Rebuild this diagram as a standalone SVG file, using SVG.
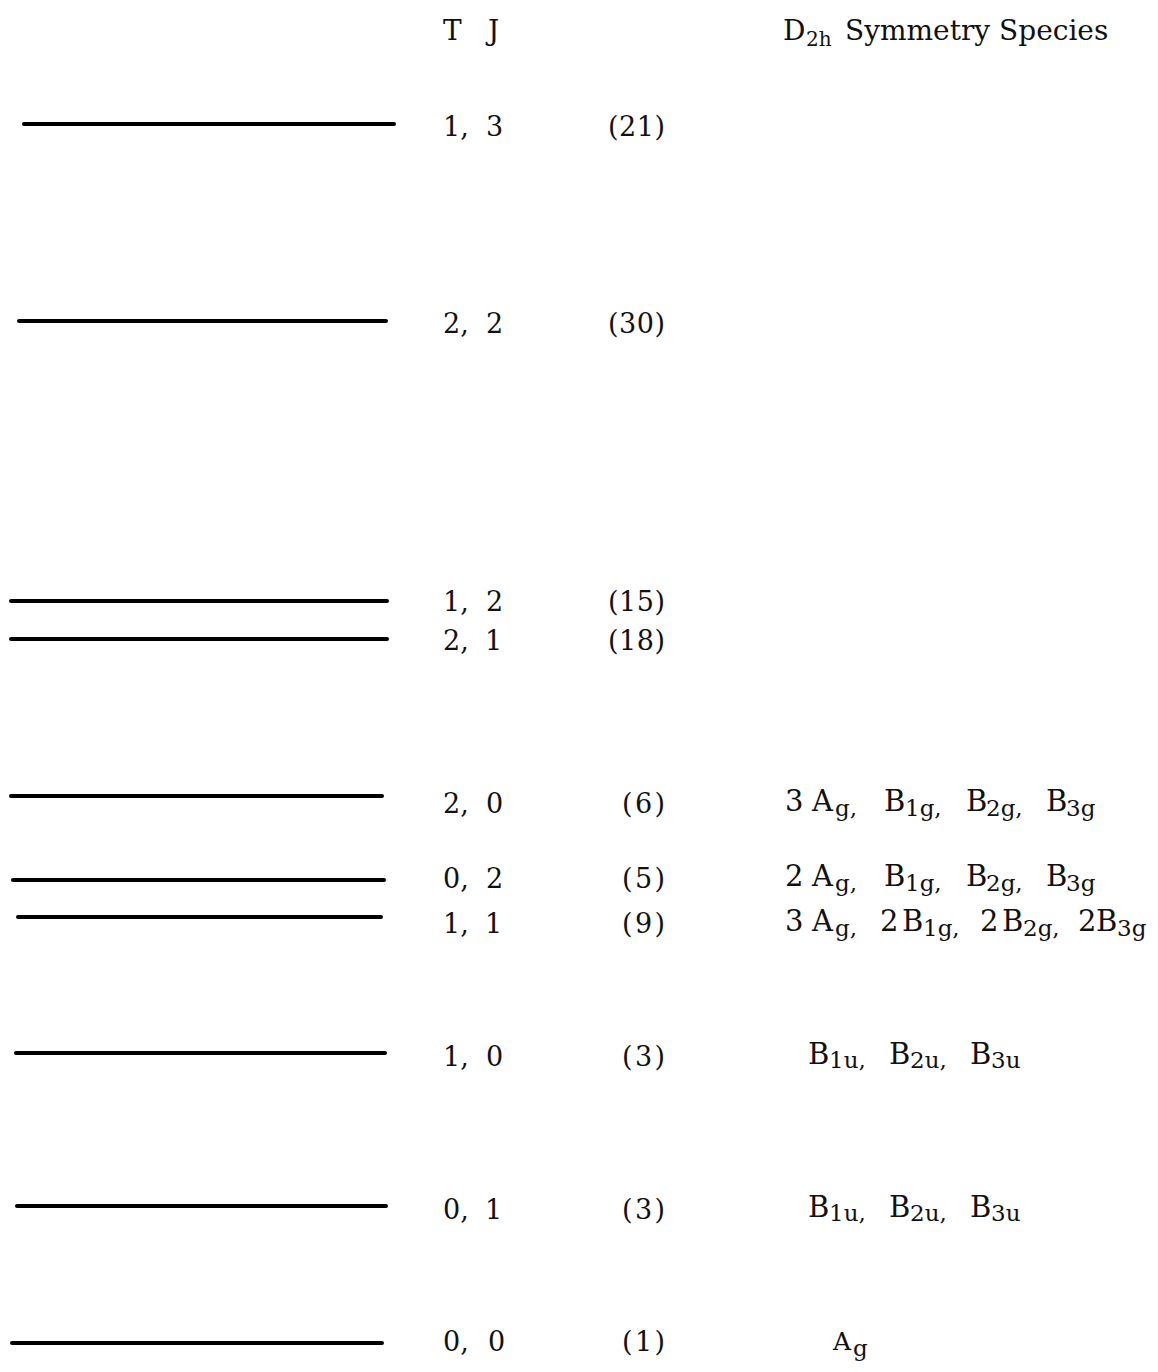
<svg xmlns="http://www.w3.org/2000/svg" width="1158" height="1372" viewBox="0 0 1158 1372">
<style>
.bg{fill:#ffffff}
.lvl{stroke:#000;stroke-width:4;stroke-linecap:round;fill:none}
.h{font-family:"DejaVu Serif","Liberation Serif",serif;font-size:28px;fill:#111}
.n{font-family:"DejaVu Serif","Liberation Serif",serif;font-size:27px;fill:#111}
.sp{font-family:"DejaVu Serif","Liberation Serif",serif;font-size:29px;fill:#111}
.s{font-family:"DejaVu Serif","Liberation Serif",serif;font-size:23px;fill:#111}
</style>
<rect class="bg" x="0" y="0" width="1158" height="1372"/>
<g id="header">
<text class="h" x="443" y="40">T</text>
<text class="h" x="488" y="40">J</text>
<text class="h" x="783" y="40">D</text>
<text class="s" x="806" y="46" style="font-size:20px">2h</text>
<text class="h" x="845" y="40">Symmetry Species</text>
</g>
<g id="level-1-3">
<line class="lvl" x1="24" y1="124" x2="394" y2="124"/>
<text class="n" x="443" y="136">1,<tspan x="486">3</tspan></text>
<text class="n" x="608" y="136" textLength="57" lengthAdjust="spacing">(21)</text>
</g>
<g id="level-2-2">
<line class="lvl" x1="19" y1="321" x2="386" y2="321"/>
<text class="n" x="443" y="333">2,<tspan x="486">2</tspan></text>
<text class="n" x="608" y="333" textLength="57" lengthAdjust="spacing">(30)</text>
</g>
<g id="level-1-2">
<line class="lvl" x1="11" y1="601" x2="387" y2="601"/>
<text class="n" x="443" y="611">1,<tspan x="486">2</tspan></text>
<text class="n" x="608" y="611" textLength="57" lengthAdjust="spacing">(15)</text>
</g>
<g id="level-2-1">
<line class="lvl" x1="11" y1="639" x2="387" y2="639"/>
<text class="n" x="443" y="650">2,<tspan x="485">1</tspan></text>
<text class="n" x="608" y="650" textLength="57" lengthAdjust="spacing">(18)</text>
</g>
<g id="level-2-0">
<line class="lvl" x1="11" y1="796" x2="382" y2="796"/>
<text class="n" x="443" y="813">2,<tspan x="486">0</tspan></text>
<text class="n" x="622" y="813" textLength="43" lengthAdjust="spacing">(6)</text>
<text class="sp" x="785" y="811">3</text>
<text class="sp" x="812" y="811">A</text><text class="s" x="835" y="816">g,</text>
<text class="sp" x="884" y="811">B</text><text class="s" x="905" y="816">1g,</text>
<text class="sp" x="966" y="811">B</text><text class="s" x="986" y="816">2g,</text>
<text class="sp" x="1046" y="811">B</text><text class="s" x="1066" y="816">3g</text>
</g>
<g id="level-0-2">
<line class="lvl" x1="13" y1="880" x2="384" y2="880"/>
<text class="n" x="443" y="888">0,<tspan x="486">2</tspan></text>
<text class="n" x="622" y="888" textLength="43" lengthAdjust="spacing">(5)</text>
<text class="sp" x="785" y="886">2</text>
<text class="sp" x="812" y="886">A</text><text class="s" x="835" y="891">g,</text>
<text class="sp" x="884" y="886">B</text><text class="s" x="905" y="891">1g,</text>
<text class="sp" x="966" y="886">B</text><text class="s" x="986" y="891">2g,</text>
<text class="sp" x="1046" y="886">B</text><text class="s" x="1066" y="891">3g</text>
</g>
<g id="level-1-1">
<line class="lvl" x1="18" y1="917" x2="381" y2="917"/>
<text class="n" x="443" y="933">1,<tspan x="485">1</tspan></text>
<text class="n" x="622" y="933" textLength="43" lengthAdjust="spacing">(9)</text>
<text class="sp" x="785" y="931">3</text>
<text class="sp" x="812" y="931">A</text><text class="s" x="835" y="936">g,</text>
<text class="sp" x="880" y="931">2</text>
<text class="sp" x="902" y="931">B</text><text class="s" x="923" y="936">1g,</text>
<text class="sp" x="980" y="931">2</text>
<text class="sp" x="1002" y="931">B</text><text class="s" x="1023" y="936">2g,</text>
<text class="sp" x="1078" y="931">2</text>
<text class="sp" x="1096" y="931">B</text><text class="s" x="1117" y="936">3g</text>
</g>
<g id="level-1-0">
<line class="lvl" x1="16" y1="1053" x2="385" y2="1053"/>
<text class="n" x="443" y="1066">1,<tspan x="486">0</tspan></text>
<text class="n" x="622" y="1066" textLength="43" lengthAdjust="spacing">(3)</text>
<text class="sp" x="808" y="1064">B</text><text class="s" x="829" y="1068">1u,</text>
<text class="sp" x="889" y="1064">B</text><text class="s" x="910" y="1068">2u,</text>
<text class="sp" x="970" y="1064">B</text><text class="s" x="991" y="1068">3u</text>
</g>
<g id="level-0-1">
<line class="lvl" x1="17" y1="1206" x2="386" y2="1206"/>
<text class="n" x="443" y="1219">0,<tspan x="485">1</tspan></text>
<text class="n" x="622" y="1219" textLength="43" lengthAdjust="spacing">(3)</text>
<text class="sp" x="808" y="1217">B</text><text class="s" x="829" y="1221">1u,</text>
<text class="sp" x="889" y="1217">B</text><text class="s" x="910" y="1221">2u,</text>
<text class="sp" x="970" y="1217">B</text><text class="s" x="991" y="1221">3u</text>
</g>
<g id="level-0-0">
<line class="lvl" x1="12" y1="1343" x2="382" y2="1343"/>
<text class="n" x="443" y="1351">0,<tspan x="488">0</tspan></text>
<text class="n" x="622" y="1351" textLength="43" lengthAdjust="spacing">(1)</text>
<text class="sp" x="833" y="1350" style="font-size:25px">A</text><text class="s" x="853" y="1356">g</text>
</g>
</svg>
